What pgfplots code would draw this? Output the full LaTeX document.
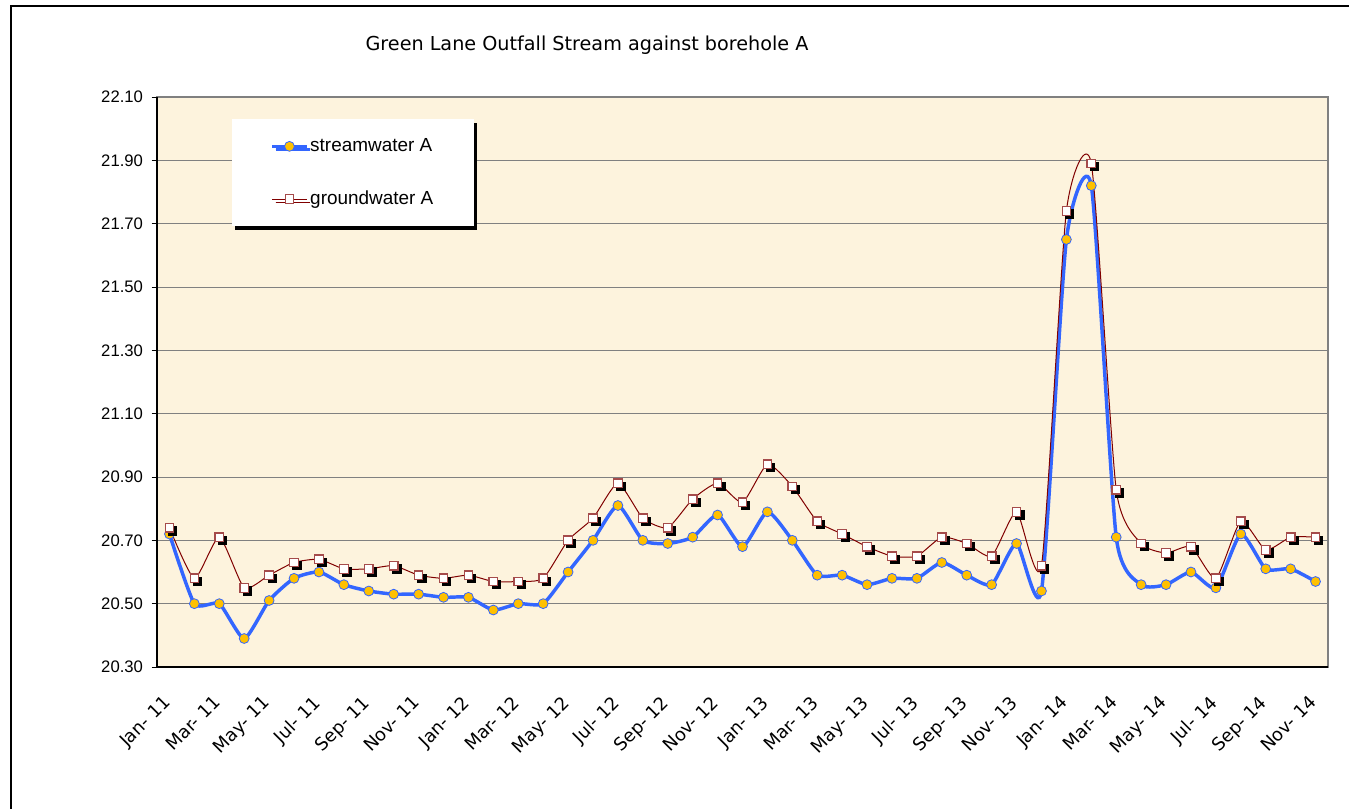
\documentclass[border=0pt]{standalone}
\usepackage{pgfplots}
\usepackage{pgfplotstable}
\pgfplotsset{compat=1.18}
\usepackage{fontspec}
\setmainfont{Liberation Sans}
\newfontfamily\dejavu{DejaVu Sans}
\usetikzlibrary{shadows}
\definecolor{bgc}{RGB}{253,243,221}
\definecolor{streamblue}{RGB}{51,102,255}
\definecolor{gold}{RGB}{255,192,0}
\definecolor{gw}{RGB}{128,0,0}
\definecolor{gwedge}{RGB}{165,75,75}

\pgfplotstableread{
x s g
0 20.72 20.74
1 20.50 20.58
2 20.50 20.71
3 20.39 20.55
4 20.51 20.59
5 20.58 20.63
6 20.60 20.64
7 20.56 20.61
8 20.54 20.61
9 20.53 20.62
10 20.53 20.59
11 20.52 20.58
12 20.52 20.59
13 20.48 20.57
14 20.50 20.57
15 20.50 20.58
16 20.60 20.70
17 20.70 20.77
18 20.81 20.88
19 20.70 20.77
20 20.69 20.74
21 20.71 20.83
22 20.78 20.88
23 20.68 20.82
24 20.79 20.94
25 20.70 20.87
26 20.59 20.76
27 20.59 20.72
28 20.56 20.68
29 20.58 20.65
30 20.58 20.65
31 20.63 20.71
32 20.59 20.69
33 20.56 20.65
34 20.69 20.79
35 20.54 20.62
36 21.65 21.74
37 21.82 21.89
38 20.71 20.86
39 20.56 20.69
40 20.56 20.66
41 20.60 20.68
42 20.55 20.58
43 20.72 20.76
44 20.61 20.67
45 20.61 20.71
46 20.57 20.71
}\datatable

\begin{document}
\begin{tikzpicture}
\useasboundingbox (-117.75pt,-105.75pt) rectangle (894pt,500.25pt);
\fill[white] (-117.75pt,-105.75pt) rectangle (894pt,500.25pt);
\draw[line width=0.9pt] (-109.5pt,-110pt) -- (-109.5pt,495.75pt) -- (900pt,495.75pt);
\begin{axis}[
  at={(0pt,0pt)}, anchor=south west,
  scale only axis, width=878.25pt, height=427.5pt,
  xmin=-0.5, xmax=46.5, ymin=20.30, ymax=22.10,
  ytick={20.3,20.5,20.7,20.9,21.1,21.3,21.5,21.7,21.9,22.1},
  /pgf/number format/assume math mode=true,
  yticklabel style={/pgf/number format/fixed, /pgf/number format/fixed zerofill, /pgf/number format/precision=2, font=\fontsize{12.5}{14}\selectfont, xshift=-3pt},
  xtick={0,2,...,46},
  xticklabels={Jan- 11,Mar- 11,May- 11,Jul- 11,Sep- 11,Nov- 11,Jan- 12,Mar- 12,May- 12,Jul- 12,Sep- 12,Nov- 12,Jan- 13,Mar- 13,May- 13,Jul- 13,Sep- 13,Nov- 13,Jan- 14,Mar- 14,May- 14,Jul- 14,Sep- 14,Nov- 14},
  xticklabel style={xshift=-5.5pt, yshift=-15pt, rotate=45, anchor=north east, font=\dejavu\fontsize{13.4}{15}\selectfont, inner sep=1pt},
  axis background/.style={fill=bgc},
  ymajorgrids, grid style={black!50, line width=0.6pt},
  axis line style={black!50, line width=0.8pt},
  tick align=outside, major tick length=4pt,
  ytick style={black, line width=0.7pt}, xtick style={draw=none},
  ytick pos=left,
  legend style={at={(0.0638,0.961)}, anchor=north west, fill=white, draw=none,
    drop shadow={shadow xshift=2.5pt, shadow yshift=-2.5pt, opacity=1, fill=black},
    font=\fontsize{14.2}{16}\selectfont, inner xsep=29pt, inner ysep=12.5pt, row sep=24pt,
    nodes={inner xsep=1.5pt}},
  legend cell align=left,
  legend image code/.code={\draw[mark repeat=2,mark phase=2,#1] plot coordinates {(0cm,0cm) (0.45cm,0cm) (0.9cm,0cm)};},
]
\addplot[streamblue, line width=2.6pt, smooth, tension=0.35, mark=*, mark size=3.7pt,
  mark options={solid, fill=gold, draw=streamblue, line width=0.6pt}] table[x=x,y=s]{\datatable};
\addlegendentry{streamwater A}
\addplot[only marks, mark=square*, mark size=3.2pt, forget plot,
  mark options={fill=black, draw=black, xshift=2.2pt, yshift=-2.2pt}] table[x=x,y=g]{\datatable};
\addplot[gw, line width=0.75pt, smooth, tension=0.35, mark=square*, mark size=3.2pt,
  mark options={solid, fill=white, draw=gwedge, line width=0.9pt}] table[x=x,y=g]{\datatable};
\addlegendentry{groundwater A}
\end{axis}
\draw[black, line width=1.4pt] (0pt,427.5pt) -- (0pt,0pt) -- (878.25pt,0pt);
\node[font=\dejavu\fontsize{14.4}{16}\selectfont] at (322.5pt,466.5pt) {Green Lane Outfall Stream against borehole A};
\end{tikzpicture}
\end{document}
